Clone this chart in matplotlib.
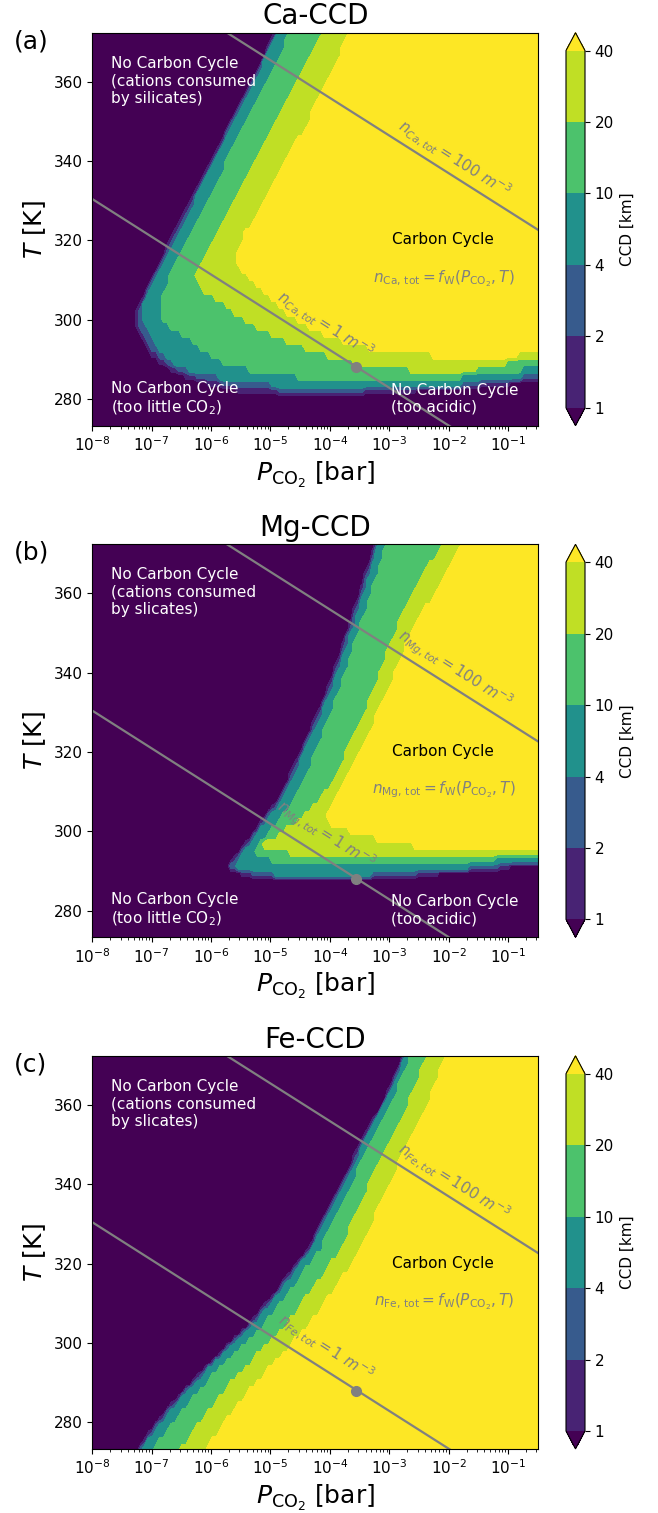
import matplotlib
matplotlib.use("Agg")  # non-interactive backend
import matplotlib.pyplot as plt
import numpy as np
from matplotlib.path import Path
from matplotlib.ticker import LogLocator

# contour levels of the carbonate compensation depth [km]
levels = [1, 2, 4, 10, 20, 40]
tick_labels = ["1", "2", "4", "10", "20", "40"]

# weathering lines n_tot = 1 and 100 m^-3 (same in every panel)
line_P = [1e-8, 10 ** -0.49]
n1_T = [330.4, 259.0]
n100_T = [393.8, 322.6]
modern_P = 2.8e-4
modern_T = 288.0

# boundaries of the regions CCD >= level, as (log10 P, T)
ca_edges = {
    1: ([-4.635, -4.914, -7.318, -7.194, -7.025, -6.801, -6.519, -6.181, -5.505, -4.491, -3.140, -1.958, -0.471],
        [380.5, 372.3, 301.2, 295.7, 291.5, 288.2, 286.1, 284.6, 282.0, 281.2, 281.8, 282.8, 284.8]),
    2: ([-4.606, -4.885, -7.253, -7.144, -6.975, -6.755, -6.468, -6.130, -5.454, -4.491, -3.140, -1.958, -0.471],
        [380.5, 372.3, 301.6, 296.4, 292.4, 289.1, 286.8, 285.3, 282.9, 281.9, 282.4, 283.3, 285.6]),
    4: ([-4.588, -4.858, -7.177, -7.081, -6.912, -6.687, -6.405, -6.181, -5.505, -4.491, -3.816, -2.127, -1.282, -0.471],
        [380.5, 372.3, 302.5, 297.4, 293.2, 289.9, 287.8, 286.9, 284.8, 283.4, 283.2, 283.6, 284.8, 286.6]),
    10: ([-4.390, -4.660, -6.856, -6.801, -6.632, -6.490, -6.181, -5.787, -5.223, -4.491, -3.816, -2.689, -1.451, -1.000, -0.471],
         [380.5, 372.3, 305.7, 299.9, 297.8, 296.6, 293.2, 289.4, 287.1, 285.8, 285.6, 285.3, 286.1, 287.3, 288.3]),
    20: ([-3.841, -4.125, -6.248, -6.181, -5.899, -5.561, -5.223, -4.885, -4.547, -4.098, -3.512, -2.689, -1.620, -1.113, -0.471],
         [380.5, 372.3, 310.8, 308.2, 305.0, 301.6, 298.2, 295.7, 293.6, 291.5, 289.1, 287.7, 287.3, 289.4, 290.1]),
    40: ([-3.51, -3.676, -3.872, -4.154, -4.436, -4.774, -5.054, -5.392, -5.590, -5.534, -5.336, -5.054, -4.716, -4.323,
          -3.816, -3.253, -2.689, -1.845, -1.000, -0.466],
         [380.5, 373.0, 364.6, 356.2, 347.8, 339.4, 331.0, 322.6, 315.9, 313.8, 310.4, 306.2, 302.0, 298.2,
          294.9, 292.8, 291.5, 291.1, 291.1, 291.9]),
}

mg_edges = {
    1: ([-3.129, -3.253, -3.534, -3.759, -3.985, -4.210, -4.435, -4.660, -4.886, -5.167, -5.449, -5.742,
         -5.561, -5.223, -4.660, -4.097, -3.534, -2.408, -1.282, -0.465],
        [378.4, 372.3, 358.3, 348.2, 338.1, 329.7, 322.2, 314.6, 307.9, 302.0, 296.1, 290.7,
         289.7, 288.6, 287.9, 287.9, 288.2, 289.2, 290.7, 292.4]),
    2: ([-3.095, -3.219, -3.500, -3.726, -3.951, -4.176, -4.401, -4.627, -4.852, -5.133, -5.415, -5.702,
         -5.533, -5.195, -4.660, -4.097, -3.534, -2.408, -1.282, -0.465],
        [378.4, 372.3, 358.3, 348.2, 338.1, 329.7, 322.2, 314.6, 307.9, 302.0, 296.3, 290.9,
         290.1, 289.1, 288.4, 288.4, 288.7, 289.6, 291.1, 292.7]),
    4: ([-3.044, -3.168, -3.450, -3.675, -3.900, -4.125, -4.351, -4.576, -4.801, -5.083, -5.364, -5.629,
         -5.505, -5.111, -4.660, -4.097, -3.534, -2.408, -1.282, -0.465],
        [378.4, 372.3, 358.3, 348.2, 338.1, 329.7, 322.2, 314.6, 307.9, 302.0, 296.1, 291.5,
         290.7, 289.7, 289.1, 289.0, 289.3, 290.3, 291.8, 293.0]),
    10: ([-2.943, -3.056, -3.337, -3.563, -3.788, -3.985, -4.182, -4.379, -4.604, -4.886, -5.111, -5.280,
          -5.223, -4.886, -4.379, -3.816, -3.253, -2.690, -1.845, -1.000, -0.465],
         [378.4, 372.3, 358.3, 348.2, 338.1, 329.7, 322.2, 314.6, 307.9, 302.0, 297.8, 294.9,
          293.6, 292.8, 291.8, 291.3, 291.5, 292.1, 292.8, 293.2, 293.6]),
    20: ([-1.958, -2.126, -2.633, -2.971, -3.196, -3.422, -3.647, -3.872, -4.154, -4.548, -4.886, -5.111,
          -4.998, -4.660, -4.097, -3.534, -2.971, -2.408, -1.282, -0.465],
         [378.4, 372.3, 358.3, 348.2, 338.1, 329.7, 322.2, 314.6, 307.9, 302.0, 298.7, 296.6,
          295.5, 294.9, 294.0, 293.5, 293.2, 293.2, 293.8, 294.2]),
    40: ([-1.620, -1.789, -2.183, -2.549, -2.774, -2.943, -3.140, -3.337, -3.534, -3.759, -3.985, -4.069,
          -3.985, -3.534, -2.971, -2.408, -1.845, -1.282, -0.465],
         [378.4, 372.3, 360.8, 352.4, 344.8, 338.1, 331.4, 324.7, 318.8, 312.1, 306.2, 303.3,
          301.6, 299.5, 297.4, 296.3, 295.7, 295.3, 294.9]),
}

fe_T = [378.8, 372.3, 361.2, 350.3, 336.8, 323.4, 313.3, 304.9, 298.2, 291.5, 284.0, 276.4, 269.7]
fe_edges = {
    1: ([-2.605, -2.774, -3.084, -3.478, -3.928, -4.379, -4.886, -5.336, -5.787, -6.237, -6.688, -7.082, -7.420], fe_T),
    2: ([-2.571, -2.740, -3.050, -3.444, -3.894, -4.345, -4.852, -5.302, -5.753, -6.203, -6.654, -7.048, -7.386], fe_T),
    4: ([-2.549, -2.718, -3.028, -3.410, -3.860, -4.306, -4.813, -5.257, -5.708, -6.153, -6.604, -6.998, -7.336], fe_T),
    10: ([-2.481, -2.650, -2.943, -3.309, -3.731, -4.154, -4.650, -5.088, -5.534, -5.978, -6.418, -6.800, -7.138], fe_T),
    20: ([-2.183, -2.352, -2.645, -3.028, -3.421, -3.816, -4.295, -4.717, -5.139, -5.561, -5.984, -6.350, -6.688], fe_T),
    40: ([-1.873, -2.042, -2.324, -2.690, -3.083, -3.478, -3.929, -4.322, -4.717, -5.139, -5.562, -5.928, -6.266], fe_T),
}

panels = [
    ("Ca", "(a)", ca_edges, "by silicates)", True),
    ("Mg", "(b)", mg_edges, "by slicates)", True),
    ("Fe", "(c)", fe_edges, "by slicates)", False),
]

W, H = 658, 1513
panel_tops = [32.7, 544.3, 1055.9]

# colours of the bands (log-spaced viridis, under/over at the ends)
cmap = plt.get_cmap("viridis")
mids = np.sqrt(np.array(levels[:-1], float) * np.array(levels[1:], float))
band_colors = [cmap(0.0)] + [cmap(p) for p in np.log(mids) / np.log(levels[-1])] + [cmap(1.0)]
fill_values = np.array([0.5, 1.5, 3, 7, 15, 30, 60])

lp_grid = np.linspace(-8, -0.49, 120)
t_grid = np.linspace(273.3, 372.3, 56)


def ccd_field(edges):
    LP, TT = np.meshgrid(lp_grid, t_grid)
    pts = np.column_stack([LP.ravel(), TT.ravel()])
    count = np.zeros(LP.size, dtype=int)
    for lv in levels:
        x, y = edges[lv]
        xs = list(x) + [0.5, 0.5]
        ys = list(y) + [y[-1], y[0]]
        count += Path(np.column_stack([xs, ys])).contains_points(pts)
    return fill_values[count].reshape(LP.shape)


fig = plt.figure(figsize=(W / 100, H / 100), dpi=100)

for (el, letter, edges, silicate_word, bottom_text), top in zip(panels, panel_tops):
    bottom = 1 - (top + 393) / H
    ax = fig.add_axes([92.3 / W, bottom, 446 / W, 393 / H])
    cax = fig.add_axes([566 / W, bottom, 19 / W, 393 / H])

    cs = ax.contourf(10 ** lp_grid, t_grid, ccd_field(edges), levels=levels,
                     colors=band_colors, extend="both")
    ax.set_xscale("log")
    ax.set_xlim(1e-8, 10 ** -0.49)
    ax.set_ylim(273.3, 372.3)

    ax.plot(line_P, n1_T, color="gray", lw=1.6)
    ax.plot(line_P, n100_T, color="gray", lw=1.6)
    ax.plot(modern_P, modern_T, "o", color="gray", ms=7)

    ax.text(10 ** -1.90, 340.7, rf"$n_{{{el},tot}} = 100\ m^{{-3}}$", color="gray",
            fontsize=11, rotation=-32.4, ha="center", va="center")
    ax.text(10 ** -4.07, 298.9, rf"$n_{{{el},tot}} = 1\ m^{{-3}}$", color="gray",
            fontsize=11, rotation=-32.4, ha="center", va="center")

    ax.text(2.05e-8, 360.2, "No Carbon Cycle\n(cations consumed\n" + silicate_word,
            color="white", fontsize=11, ha="left", va="center")
    if bottom_text:
        ax.text(2.05e-8, 280.1, "No Carbon Cycle\n(too little CO$_2$)",
                color="white", fontsize=11, ha="left", va="center")
        ax.text(1.07e-3, 280.1, "No Carbon Cycle\n(too acidic)",
                color="white", fontsize=11, ha="left", va="center")
    ax.text(8e-3, 320.1, "Carbon Cycle", color="black", fontsize=11, ha="center", va="center")
    ax.text(8.3e-3, 310.4, rf"$n_{{\rm {el},\,tot}} = f_{{\rm W}}(P_{{\rm CO_2}}, T)$",
            color="gray", fontsize=11, ha="center", va="center")

    ax.xaxis.set_major_locator(LogLocator(base=10, numticks=20))
    ax.xaxis.set_minor_locator(LogLocator(base=10, subs=np.arange(2, 10), numticks=20))
    ax.set_yticks([280, 300, 320, 340, 360])
    ax.tick_params(labelsize=11)
    ax.set_xlabel(r"$P_{\rm CO_2}$ [bar]", fontsize=18)
    ax.set_ylabel(r"$T$ [K]", fontsize=18)
    ax.set_title(f"{el}-CCD", fontsize=20)
    fig.text(14 / W, 1 - (top + 8.3) / H, letter, fontsize=18, va="center", ha="left")

    cbar = fig.colorbar(cs, cax=cax)
    cbar.set_ticks(levels, labels=tick_labels)
    cbar.ax.tick_params(labelsize=11)
    cbar.set_label("CCD [km]", fontsize=11)

fig.savefig("out.png", dpi=100)
